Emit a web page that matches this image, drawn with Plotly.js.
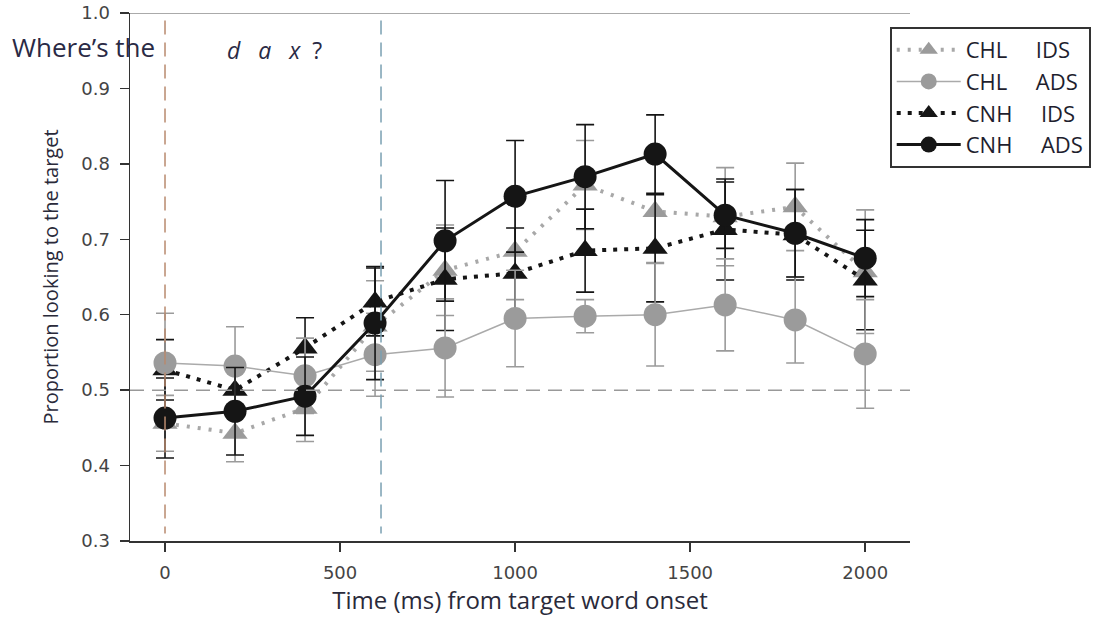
<!DOCTYPE html>
<html>
<head>
<meta charset="utf-8">
<script src="https://cdn.plot.ly/plotly-3.0.1.min.js"></script>
<style>html,body{margin:0;padding:0;background:#fff;}#chart{width:1110px;height:617px;}</style>
</head>
<body>
<div id="chart"></div>
<script>
// Time bins (ms from target word onset)
const time = [0, 200, 400, 600, 800, 1000, 1200, 1400, 1600, 1800, 2000];
// CHL IDS
const chlIds    = [0.456, 0.443, 0.476, 0.585, 0.659, 0.684, 0.772, 0.737, 0.730, 0.743, 0.657];
const chlIdsErr = [0.037, 0.038, 0.044, 0.060, 0.060, 0.064, 0.059, 0.068, 0.065, 0.058, 0.082];
// CHL ADS
const chlAds    = [0.536, 0.532, 0.519, 0.547, 0.556, 0.595, 0.598, 0.600, 0.613, 0.593, 0.548];
const chlAdsErr = [0.066, 0.052, 0.050, 0.055, 0.065, 0.064, 0.022, 0.068, 0.061, 0.057, 0.072];
// CNH IDS
const cnhIds    = [0.527, 0.500, 0.556, 0.617, 0.647, 0.655, 0.685, 0.688, 0.713, 0.706, 0.646];
const cnhIdsErr = [0.040, 0.030, 0.040, 0.045, 0.068, 0.060, 0.055, 0.071, 0.067, 0.060, 0.066];
// CNH ADS
const cnhAds    = [0.463, 0.472, 0.492, 0.589, 0.698, 0.757, 0.783, 0.813, 0.732, 0.708, 0.675];
const cnhAdsErr = [0.053, 0.058, 0.052, 0.075, 0.080, 0.074, 0.069, 0.052, 0.044, 0.058, 0.051];

const xTicks = [0, 500, 1000, 1500, 2000];
const yTicks = [0.3, 0.4, 0.5, 0.6, 0.7, 0.8, 0.9, 1.0];
const wordOnset = 0;
const wordOffset = 617;
const chance = 0.5;

const GRAY = '#9b9b9b';
const BLACK = '#151515';
const NB = '\u00a0';
const GAP = NB + NB + NB + NB + NB;

function trace(name, y, err, color, symbol, size, line, rank) {
  return {
    type: 'scatter', mode: 'lines+markers', name: name, x: time, y: y,
    legendrank: rank,
    line: line,
    marker: {symbol: symbol, size: size, color: color},
    error_y: {type: 'data', array: err, visible: true, color: color, thickness: 1.6, width: 9}
  };
}

const data = [
  trace('CHL' + GAP + 'IDS', chlIds, chlIdsErr, GRAY, 'triangle-up', 22,
        {color: '#a8a8a8', width: 4, dash: '3px,8px'}, 1),
  trace('CNH' + GAP + 'IDS', cnhIds, cnhIdsErr, BLACK, 'triangle-up', 22,
        {color: BLACK, width: 4, dash: '4px,7px'}, 3),
  trace('CHL' + GAP + 'ADS', chlAds, chlAdsErr, GRAY, 'circle', 23,
        {color: '#aaaaaa', width: 1.5}, 2),
  trace('CNH' + GAP + 'ADS', cnhAds, cnhAdsErr, BLACK, 'circle', 23,
        {color: BLACK, width: 3}, 4)
];

const layout = {
  width: 1110, height: 617,
  margin: {l: 130, r: 200, t: 13, b: 76},
  paper_bgcolor: '#fff', plot_bgcolor: '#fff',
  font: {family: 'Open Sans, sans-serif', color: '#333'},
  showlegend: true,
  legend: {
    x: 0.974, y: 0.9735, xanchor: 'left', yanchor: 'top',
    bgcolor: '#fff', bordercolor: '#333', borderwidth: 2,
    font: {size: 22, color: '#1e1e2e'}, traceorder: 'normal',
    tracegroupgap: 0, itemwidth: 64
  },
  xaxis: {
    range: [-100, 2128], tickvals: xTicks, ticktext: xTicks.map(String),
    showline: true, linecolor: '#333', linewidth: 1.5,
    ticks: 'outside', ticklen: 9, tickcolor: '#333', tickwidth: 1.5,
    showgrid: false, zeroline: false, ticklabelstandoff: 6,
    tickfont: {family: 'DejaVu Sans, sans-serif', size: 18, color: '#444'},
    title: {text: 'Time (ms) from target word onset', font: {size: 24, color: '#2a2a3a'}, standoff: 10}
  },
  yaxis: {
    range: [0.3, 1.0], tickvals: yTicks, ticktext: yTicks.map(v => v.toFixed(1)),
    showline: true, linecolor: '#333', linewidth: 1.5,
    ticks: 'outside', ticklen: 9, tickcolor: '#333', tickwidth: 1.5,
    showgrid: false, zeroline: false, ticklabelstandoff: 6,
    tickfont: {family: 'DejaVu Sans, sans-serif', size: 18, color: '#444'},
    title: {text: 'Proportion looking to the target', font: {size: 20, color: '#2a2a3a'}, standoff: 17}
  },
  shapes: [
    {type: 'line', xref: 'paper', yref: 'y', x0: 0, x1: 1, y0: 1.0, y1: 1.0,
     line: {color: '#aaaaaa', width: 2}},
    {type: 'line', xref: 'paper', yref: 'y', x0: 0, x1: 1, y0: chance, y1: chance,
     line: {color: '#999999', width: 1.5, dash: '14px,8px'}},
    {type: 'line', xref: 'x', yref: 'y', x0: wordOnset, x1: wordOnset, y0: 0.99, y1: 0.31,
     line: {color: '#b88a6e', width: 1.5, dash: '14px,8px'}},
    {type: 'line', xref: 'x', yref: 'y', x0: wordOffset, x1: wordOffset, y0: 0.99, y1: 0.31,
     line: {color: '#7aa0b2', width: 1.5, dash: '14px,8px'}}
  ],
  annotations: [
    {xref: 'paper', yref: 'paper', x: -0.1538, y: 0.9356, xanchor: 'left', yanchor: 'middle',
     showarrow: false, text: 'Where’s the', font: {size: 26, color: '#2a2a45'}},
    {xref: 'x', yref: 'paper', x: 171, y: 0.93, xanchor: 'left', yanchor: 'middle',
     showarrow: false, text: '<i>d' + NB + NB + NB + 'a' + NB + NB + NB + 'x</i>' + NB + NB + '?',
     font: {size: 23, color: '#2a2a45'}}
  ]
};

Plotly.newPlot('chart', data, layout, {displayModeBar: false, staticPlot: true});
</script>
</body>
</html>
